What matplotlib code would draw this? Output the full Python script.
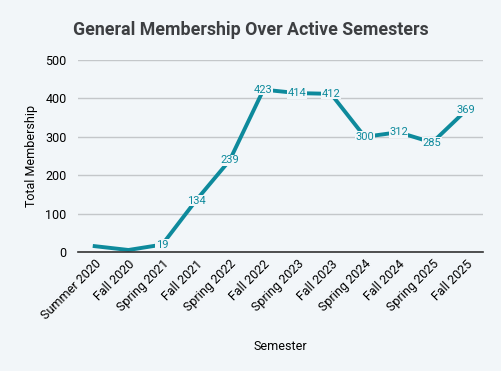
import matplotlib
matplotlib.use("Agg")
import matplotlib.pyplot as plt

semesters = ["Summer 2020", "Fall 2020", "Spring 2021", "Fall 2021", "Spring 2022",
             "Fall 2022", "Spring 2023", "Fall 2023", "Spring 2024", "Fall 2024",
             "Spring 2025", "Fall 2025"]
membership = [15, 5, 19, 134, 239, 423, 414, 412, 300, 312, 285, 369]
show_label = [False, False, True, True, True, True, True, True, True, True, True, True]

BG = "#f2f6f9"
TEAL = "#0e8a9c"

plt.rcParams["font.family"] = ["Roboto", "DejaVu Sans"]

fig = plt.figure(figsize=(5.02, 3.71), dpi=100, facecolor=BG)
ax = fig.add_axes([0.155, 0.321, 0.807, 0.517], facecolor=BG)

x = list(range(len(semesters)))
ax.plot(x, membership, color=TEAL, lw=2.8, solid_joinstyle="round", zorder=2)
for xi, v, s in zip(x, membership, show_label):
    if s:
        ax.text(xi, v, str(v), ha="center", va="center", fontsize=8, color=TEAL,
                zorder=3, bbox=dict(boxstyle="square,pad=0.05", fc=BG, ec="none"))

ax.set_xlim(-0.5, len(semesters) - 0.5)
ax.set_ylim(0, 500)
ax.set_yticks([0, 100, 200, 300, 400, 500])
ax.set_xticks(x)
ax.set_xticklabels(semesters, rotation=45, ha="right", rotation_mode="anchor", fontsize=9)
ax.tick_params(axis="y", labelsize=9, length=0, pad=8)
ax.tick_params(axis="x", length=0, pad=4)
ax.grid(axis="y", color="#c4c7ca", lw=1)
ax.set_axisbelow(True)
for sp in ["top", "right", "left"]:
    ax.spines[sp].set_visible(False)
ax.spines["bottom"].set_color("#333333")
ax.spines["bottom"].set_linewidth(1.2)

ax.set_ylabel("Total Membership", fontsize=9, labelpad=5)
ax.set_xlabel("Semester", fontsize=9)
ax.xaxis.set_label_coords(0.5, -0.46)
fig.text(0.5, 0.918, "General Membership Over Active Semesters", ha="center", va="center",
         fontsize=12.8, fontweight="bold", color="#3d3f42")

fig.savefig("out.png", dpi=100, facecolor=BG)
